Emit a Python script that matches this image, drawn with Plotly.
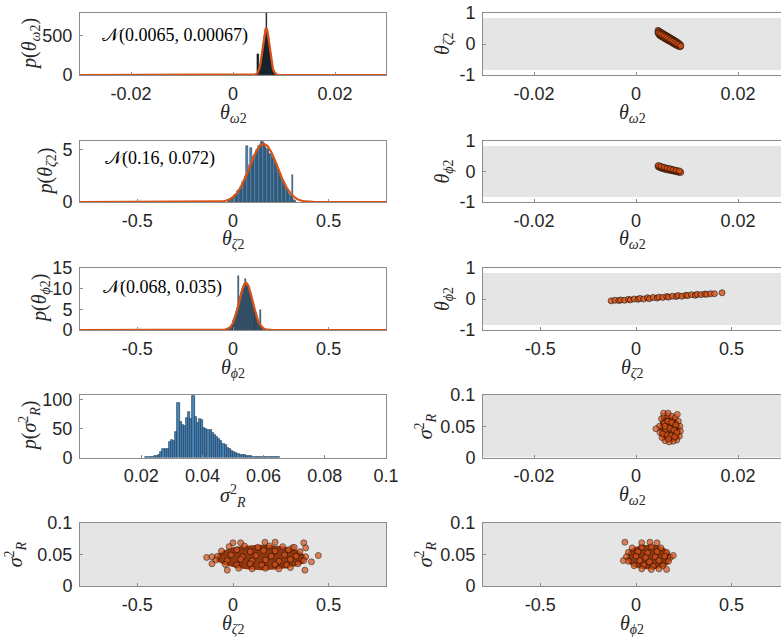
import plotly.graph_objects as go

# ---------------- data ----------------
# histogram of theta_omega2 (bin centres start / width, counts)
om_bin_start, om_bin_w = 0.0045, 0.0002
om_counts = [7, 16, 270, 67, 120, 195, 292, 400, 500, 570, 790, 575, 500, 400,
             290, 195, 120, 67, 34, 16, 7, 3]
om_fit_x = [-0.03, 0.0040, 0.0045, 0.0048, 0.0050, 0.0052, 0.0054, 0.0056, 0.0058, 0.0060,
            0.0062, 0.0064, 0.0065, 0.0066, 0.0068, 0.0070, 0.0072, 0.0074, 0.0076,
            0.0078, 0.0080, 0.0082, 0.0085, 0.0090, 0.03]
om_fit_y = [0, 0.6, 6.9, 23.8, 48.5, 90.6, 154.5, 241.5, 344.7, 450.5, 538.4, 588.4, 595,
            588.4, 538.4, 450.5, 344.7, 241.5, 154.5, 90.6, 48.5, 23.8, 6.9, 0.6, 0]

# histogram of theta_zeta2
ze_bin_start, ze_bin_w = -0.0245, 0.007
ze_counts = [0.1, 0.2, 0.3, 0.4, 0.5, 0.7, 0.8, 1.0, 1.1, 1.4, 1.5, 1.9, 2.0, 2.5, 5.3,
             3.0, 3.5, 5.1, 3.9, 4.4, 4.5, 4.9, 5.0, 5.3, 5.5, 5.8, 5.7, 5.5, 5.2, 5.0,
             5.0, 4.6, 4.6, 4.2, 4.1, 3.7, 3.4, 3.0, 2.8, 2.4, 2.1, 1.8, 1.6, 1.3, 1.1,
             0.9, 0.7, 0.6, 2.6, 0.2, 0.1]
ze_fit_x = [-0.8, -0.1, -0.06, -0.04, -0.02, 0.0, 0.02, 0.04, 0.06, 0.08, 0.10, 0.12, 0.14,
            0.16, 0.18, 0.20, 0.22, 0.24, 0.26, 0.28, 0.30, 0.32, 0.34, 0.36, 0.38, 0.42, 0.8]
ze_fit_y = [0, 0.01, 0.05, 0.12, 0.24, 0.47, 0.84, 1.38, 2.11, 2.99, 3.92, 4.75, 5.33,
            5.54, 5.33, 4.75, 3.92, 2.99, 2.11, 1.38, 0.84, 0.47, 0.24, 0.12, 0.05, 0.01, 0]

# histogram of theta_phi2
ph_bin_start, ph_bin_w = -0.04, 0.005
ph_counts = [0.1, 0.15, 0.2, 0.3, 0.5, 0.7, 0.9, 1.3, 1.7, 2.3, 2.9, 3.6, 4.5, 5.3, 13.1,
             7.3, 8.3, 9.2, 10.0, 10.6, 11.1, 12.3, 11.4, 11.2, 10.7, 10.1, 9.4, 8.5, 7.5,
             6.5, 5.5, 4.6, 3.8, 3.0, 2.4, 1.8, 1.4, 4.8, 0.7, 0.4, 0.2]
ph_fit_x = [-0.8, -0.06, -0.04, -0.02, -0.01, 0.0, 0.01, 0.02, 0.03, 0.04, 0.05, 0.06, 0.07,
            0.08, 0.09, 0.10, 0.11, 0.12, 0.13, 0.14, 0.15, 0.16, 0.18, 0.20, 0.8]
ph_fit_y = [0, 0.01, 0.10, 0.48, 0.95, 1.73, 2.89, 4.45, 6.32, 8.28, 9.99, 11.11, 11.38,
            10.75, 9.36, 7.51, 5.55, 3.78, 2.38, 1.37, 0.73, 0.36, 0.07, 0.01, 0]

# histogram of sigma_R^2
sg_bin_start, sg_bin_w = 0.0217, 0.0007
sg_counts = [0.3, 0.5, 0.7, 1, 2, 3, 5, 9, 14, 15, 15, 27, 30, 29, 44, 95, 62, 57, 55, 68,
             79, 66, 106, 70, 59, 66, 64, 51, 49, 48, 47, 43, 39, 36, 32, 28, 24, 21, 17,
             14, 11, 10, 8, 6, 5, 4, 3.5, 3, 2.5, 2, 1.6, 1.3, 1.1, 0.9, 0.8, 0.6, 0.5,
             0.4, 0.4, 0.3, 0.3, 0.2, 0.2]

# labels of the fitted normals
om_fit_label = "𝒩(0.0065, 0.00067)"
ze_fit_label = "𝒩(0.16, 0.072)"
ph_fit_label = "𝒩(0.068, 0.035)"

# prior ranges (grey background samples)
prior_omega = [-0.03, 0.03]
prior_zeta = [-0.84, 0.84]
prior_phi = [-0.84, 0.84]
prior_sigma = [0.0, 0.1]

# posterior samples: omega vs zeta (dense core outline + samples)
cA_core_x = [0.0043, 0.0065, 0.0087, 0.0087, 0.0065, 0.0043]
cA_core_y = [0.42, 0.19, -0.04, -0.08, 0.13, 0.35]
cA_x = [0.0043, 0.0043, 0.0045, 0.0045, 0.0047, 0.0047, 0.0049, 0.0049, 0.0051, 0.0051,
        0.0053, 0.0053, 0.0055, 0.0055, 0.0057, 0.0057, 0.0059, 0.0059, 0.0061, 0.0061,
        0.0063, 0.0063, 0.0065, 0.0065, 0.0067, 0.0067, 0.0069, 0.0069, 0.0071, 0.0071,
        0.0073, 0.0073, 0.0075, 0.0075, 0.0077, 0.0077, 0.0079, 0.0079, 0.0081, 0.0081,
        0.0083, 0.0083, 0.0085, 0.0085, 0.0087, 0.0087,
        0.0044, 0.0048, 0.0052, 0.0056, 0.0060, 0.0064, 0.0068, 0.0072, 0.0076, 0.0080,
        0.0084, 0.0088]
cA_y = [0.44, 0.36, 0.42, 0.30, 0.39, 0.27, 0.37, 0.25, 0.36, 0.23,
        0.33, 0.21, 0.32, 0.19, 0.29, 0.17, 0.28, 0.15, 0.26, 0.13,
        0.24, 0.11, 0.22, 0.10, 0.20, 0.08, 0.18, 0.06, 0.16, 0.04,
        0.14, 0.02, 0.12, 0.00, 0.10, -0.02, 0.08, -0.04, 0.06, -0.05,
        0.03, -0.07, 0.01, -0.08, -0.02, -0.09,
        0.36, 0.32, 0.29, 0.25, 0.21, 0.17, 0.13, 0.09, 0.05, 0.01, -0.02, -0.06]

# omega vs phi
cB_core_x = [0.0043, 0.0065, 0.0088, 0.0088, 0.0065, 0.0043]
cB_core_y = [0.19, 0.10, 0.00, -0.04, 0.05, 0.14]
cB_x = [0.0043, 0.0045, 0.0047, 0.0048, 0.0050, 0.0051, 0.0053, 0.0054, 0.0056, 0.0057,
        0.0059, 0.0060, 0.0062, 0.0063, 0.0065, 0.0066, 0.0068, 0.0069, 0.0071, 0.0072,
        0.0074, 0.0075, 0.0077, 0.0078, 0.0080, 0.0081, 0.0083, 0.0084, 0.0086, 0.0088,
        0.0044, 0.0049, 0.0055, 0.0061, 0.0067, 0.0073, 0.0079, 0.0085]
cB_y = [0.17, 0.14, 0.16, 0.12, 0.14, 0.10, 0.13, 0.09, 0.11, 0.07, 0.10, 0.06, 0.09, 0.05,
        0.08, 0.04, 0.07, 0.03, 0.06, 0.02, 0.05, 0.01, 0.03, 0.00, 0.02, -0.01, 0.00,
        -0.03, -0.01, -0.03,
        0.20, 0.17, 0.14, 0.11, 0.09, 0.06, 0.04, 0.02]

# zeta vs phi
cC_x = [-0.13, -0.11, -0.09, -0.08, -0.06, -0.04, -0.03, -0.01, 0.01, 0.02, 0.04, 0.06,
        0.07, 0.09, 0.11, 0.12, 0.14, 0.16, 0.17, 0.19, 0.21, 0.22, 0.24, 0.26, 0.27, 0.29,
        0.31, 0.32, 0.34, 0.36, 0.37, 0.39, 0.41, 0.45]
cC_y = [-0.06, -0.04, -0.05, -0.03, -0.04, -0.01, -0.03, 0.00, -0.01, 0.02, 0.00, 0.04,
        0.01, 0.05, 0.03, 0.06, 0.05, 0.08, 0.06, 0.09, 0.08, 0.11, 0.09, 0.12, 0.11, 0.14,
        0.12, 0.15, 0.14, 0.16, 0.15, 0.17, 0.17, 0.20]

# omega vs sigma: dense core outline + individual samples
cD_core_x = [0.0048, 0.0052, 0.0060, 0.0068, 0.0076, 0.0083, 0.0087, 0.0088, 0.0085, 0.0078,
             0.0068, 0.0058, 0.0051, 0.0046, 0.0045]
cD_core_y = [0.060, 0.065, 0.066, 0.066, 0.064, 0.059, 0.050, 0.040, 0.031, 0.026, 0.025,
             0.026, 0.030, 0.037, 0.048]
cD_x = [0.0050, 0.0055, 0.0062, 0.0070, 0.0077, 0.0083, 0.0086, 0.0087, 0.0085, 0.0080,
        0.0073, 0.0065, 0.0057, 0.0051, 0.0047, 0.0046, 0.0055, 0.0062, 0.0070, 0.0078,
        0.0058, 0.0066, 0.0074, 0.0080, 0.0053, 0.0061, 0.0069, 0.0076, 0.0064, 0.0057,
        0.0039, 0.0054, 0.0063, 0.0081]
cD_y = [0.062, 0.066, 0.067, 0.066, 0.064, 0.058, 0.050, 0.042, 0.034, 0.028, 0.026, 0.025,
        0.027, 0.032, 0.040, 0.050, 0.055, 0.058, 0.056, 0.052, 0.045, 0.047, 0.044, 0.040,
        0.038, 0.036, 0.035, 0.033, 0.030, 0.050, 0.046, 0.071, 0.071, 0.069]

# zeta vs sigma
cE_core_x = [-0.09, -0.08, -0.05, 0.0, 0.05, 0.10, 0.15, 0.20, 0.25, 0.30, 0.34, 0.37, 0.385,
             0.37, 0.33, 0.28, 0.22, 0.15, 0.08, 0.03, -0.02, -0.06]
cE_core_y = [0.040, 0.050, 0.056, 0.061, 0.063, 0.064, 0.065, 0.064, 0.063, 0.060, 0.056,
             0.050, 0.043, 0.036, 0.031, 0.028, 0.026, 0.025, 0.026, 0.028, 0.031, 0.035]
cE_x = [-0.02, 0.06, 0.13, 0.19, 0.26, 0.31,
        -0.06, 0.02, 0.09, 0.16, 0.22, 0.29, 0.35,
        -0.08, -0.01, 0.05, 0.12, 0.20, 0.27, 0.33, 0.38,
        -0.09, -0.03, 0.04, 0.10, 0.17, 0.24, 0.30, 0.37,
        -0.04, 0.02, 0.09, 0.15, 0.22, 0.28, 0.34,
        0.03, 0.10, 0.17, 0.24, 0.30,
        -0.138, -0.11, 0.446, 0.0, 0.04, 0.167, 0.22, 0.37, 0.38, 0.32, 0.376, -0.03,
        -0.11, 0.41]
cE_y = [0.062, 0.063, 0.061, 0.063, 0.062, 0.060,
        0.055, 0.057, 0.054, 0.056, 0.055, 0.057, 0.054,
        0.047, 0.049, 0.046, 0.048, 0.047, 0.049, 0.047, 0.046,
        0.041, 0.040, 0.042, 0.040, 0.041, 0.039, 0.042, 0.040,
        0.034, 0.033, 0.035, 0.033, 0.034, 0.033, 0.035,
        0.028, 0.027, 0.028, 0.027, 0.029,
        0.045, 0.046, 0.048, 0.068, 0.068, 0.069, 0.069, 0.068, 0.060, 0.061, 0.025, 0.025,
        0.035, 0.038]

# phi vs sigma
cF_core_x = [-0.05, -0.04, -0.01, 0.03, 0.07, 0.11, 0.15, 0.175, 0.185, 0.175, 0.15, 0.11,
             0.07, 0.03, -0.01, -0.04]
cF_core_y = [0.045, 0.055, 0.061, 0.064, 0.065, 0.064, 0.060, 0.053, 0.045, 0.036, 0.030,
             0.027, 0.026, 0.027, 0.030, 0.036]
cF_x = [-0.02, 0.03, 0.08, 0.13,
        -0.04, 0.01, 0.06, 0.11, 0.16,
        -0.05, 0.00, 0.05, 0.10, 0.15, 0.18,
        -0.04, 0.02, 0.07, 0.12, 0.17,
        -0.01, 0.04, 0.09, 0.14,
        0.03, 0.08, 0.12,
        -0.058, 0.073, 0.11, 0.195, -0.066, 0.16, 0.03]
cF_y = [0.060, 0.061, 0.062, 0.060,
        0.053, 0.054, 0.052, 0.054, 0.053,
        0.046, 0.047, 0.045, 0.046, 0.047, 0.045,
        0.039, 0.040, 0.038, 0.040, 0.039,
        0.032, 0.033, 0.031, 0.032,
        0.027, 0.026, 0.027,
        0.069, 0.069, 0.068, 0.048, 0.040, 0.026, 0.068]

# ---------------- figure ----------------
W, H = 781, 643
ORANGE = "#d95319"
GREY = "#e5e5e5"
TICKFONT = dict(family="Liberation Sans, Arial, sans-serif", size=18, color="#262626")
SERIF = "Liberation Serif, DejaVu Serif, serif"

L_X = [80 / W, 386 / W]
R_X = [483 / W, 1.0]
ROWS = [(13, 75), (141, 202), (268, 330), (395, 457.5), (522.5, 586)]


def ydom(r):
    t, b = ROWS[r]
    return [1 - b / H, 1 - t / H]


def sfx(n):
    return "" if n == 1 else str(n)


fig = go.Figure()


def centers(start, w, n):
    return [start + i * w for i in range(n)]


def add_hist(n, start, w, counts, color, lcolor, lw):
    fig.add_trace(go.Bar(x=centers(start, w, len(counts)), y=counts, width=w,
                         marker=dict(color=color, line=dict(color=lcolor, width=lw)),
                         xaxis="x" + sfx(n), yaxis="y" + sfx(n), showlegend=False))


def add_fit(n, xs, ys):
    fig.add_trace(go.Scatter(x=xs, y=ys, mode="lines", line=dict(color=ORANGE, width=2.2),
                             xaxis="x" + sfx(n), yaxis="y" + sfx(n), showlegend=False))


def add_prior(n, px, py):
    fig.add_trace(go.Scatter(x=[px[0], px[1], px[1], px[0], px[0]],
                             y=[py[0], py[0], py[1], py[1], py[0]],
                             mode="lines", fill="toself", fillcolor=GREY,
                             line=dict(width=0, color=GREY),
                             xaxis="x" + sfx(n), yaxis="y" + sfx(n), showlegend=False))


def add_core(n, xs, ys, col="#8f3812"):
    fig.add_trace(go.Scatter(x=xs + xs[:1], y=ys + ys[:1], mode="lines", fill="toself",
                             fillcolor=col, line=dict(width=0, color=col),
                             xaxis="x" + sfx(n), yaxis="y" + sfx(n), showlegend=False))


def add_pts(n, xs, ys, op=0.7):
    fig.add_trace(go.Scatter(x=xs, y=ys, mode="markers",
                             marker=dict(size=6, color=ORANGE, opacity=op,
                                         line=dict(color="#1a0a00", width=0.8)),
                             xaxis="x" + sfx(n), yaxis="y" + sfx(n), showlegend=False))


# row 1
add_hist(1, om_bin_start, om_bin_w, om_counts, "#0d2230", "#000000", 0.3)
add_fit(1, om_fit_x, om_fit_y)
add_prior(2, prior_omega, prior_zeta)
add_core(2, cA_core_x, cA_core_y, "#5e240c")
add_pts(2, cA_x, cA_y, 0.75)
# row 2
add_hist(3, ze_bin_start, ze_bin_w, ze_counts, "#4a8cc0", "#1c2c38", 0.5)
add_fit(3, ze_fit_x, ze_fit_y)
add_prior(4, prior_omega, prior_phi)
add_core(4, cB_core_x, cB_core_y, "#5e240c")
add_pts(4, cB_x, cB_y, 0.75)
# row 3
add_hist(5, ph_bin_start, ph_bin_w, ph_counts, "#3a7099", "#1c2c38", 0.5)
add_fit(5, ph_fit_x, ph_fit_y)
add_prior(6, prior_zeta, prior_phi)
add_pts(6, cC_x, cC_y, 0.8)
# row 4
add_hist(7, sg_bin_start, sg_bin_w, sg_counts, "#4686b8", "#23405a", 0.7)
add_prior(8, prior_omega, prior_sigma)
add_core(8, cD_core_x, cD_core_y)
add_pts(8, cD_x, cD_y)
# row 5
add_prior(9, prior_zeta, prior_sigma)
add_core(9, cE_core_x, cE_core_y)
add_pts(9, cE_x, cE_y)
add_prior(10, prior_phi, prior_sigma)
add_core(10, cF_core_x, cF_core_y)
add_pts(10, cF_x, cF_y)

om_ticks = ([-0.02, 0, 0.02], ["-0.02", "0", "0.02"])
half_ticks = ([-0.5, 0, 0.5], ["-0.5", "0", "0.5"])
sg_xticks = ([0.02, 0.04, 0.06, 0.08, 0.1], ["0.02", "0.04", "0.06", "0.08", "0.1"])
sg_yticks = ([0, 0.05, 0.1], ["0", "0.05", "0.1"])
unit_ticks = ([-1, 0, 1], ["-1", "0", "1"])

axes = [
    # n, xdom, row, xrange, yrange, xticks, yticks, right column?
    (1, L_X, 0, [-0.03, 0.03], [0, 790], om_ticks, ([0, 500], ["0", "500"]), False),
    (2, R_X, 0, [-0.03, 0.02843], [-1, 1], om_ticks, unit_ticks, True),
    (3, L_X, 1, [-0.8, 0.8], [0, 5.8], half_ticks, ([0, 5], ["0", "5"]), False),
    (4, R_X, 1, [-0.03, 0.02843], [-1, 1], om_ticks, unit_ticks, True),
    (5, L_X, 2, [-0.8, 0.8], [0, 15], half_ticks, ([0, 5, 10, 15], ["0", "5", "10", "15"]), False),
    (6, R_X, 2, [-0.8, 0.7582], [-1, 1], half_ticks, unit_ticks, True),
    (7, L_X, 3, [0, 0.1], [0, 108], sg_xticks, ([0, 50, 100], ["0", "50", "100"]), False),
    (8, R_X, 3, [-0.03, 0.02843], [0, 0.1], om_ticks, sg_yticks, True),
    (9, L_X, 4, [-0.8, 0.8], [0, 0.1], half_ticks, sg_yticks, False),
    (10, R_X, 4, [-0.8, 0.7582], [0, 0.1], half_ticks, sg_yticks, True),
]

lay = {}
for n, xd, r, xr, yr, xt, yt, right in axes:
    common = dict(showline=True, linecolor="#8c8c8c", linewidth=1, ticks="inside",
                  ticklen=3, tickcolor="#8c8c8c", showgrid=False, zeroline=False,
                  tickfont=TICKFONT, fixedrange=True, automargin=False)
    lay["xaxis" + sfx(n)] = dict(domain=xd, anchor="y" + sfx(n), range=xr, tickvals=xt[0],
                                 ticktext=xt[1], mirror=True, ticklabelstandoff=2, **common)
    lay["yaxis" + sfx(n)] = dict(domain=ydom(r), anchor="x" + sfx(n), range=yr,
                                 tickvals=yt[0], ticktext=yt[1], mirror=(not right),
                                 ticklabelstandoff=3, **common)
fig.update_layout(**lay)

th = {
    "om": "<i>θ</i><sub><i>ω</i>2</sub>",
    "ze": "<i>θ</i><sub><i>ζ</i>2</sub>",
    "ph": "<i>θ</i><sub><i>ϕ</i>2</sub>",
    "sg": "<i>σ</i><sup>2</sup><sub><i>R</i></sub>",
}


def p(s):
    return "<i>p</i>(" + th[s] + ")"


titles = [
    # n, xtitle, ytitle, ylabel offset
    (1, th["om"], p("om"), 50),
    (2, th["om"], th["ze"], 40),
    (3, th["ze"], p("ze"), 34),
    (4, th["om"], th["ph"], 40),
    (5, th["ph"], p("ph"), 40),
    (6, th["ze"], th["ph"], 40),
    (7, th["sg"], p("sg"), 50),
    (8, th["om"], th["sg"], 57),
    (9, th["ze"], th["sg"], 64),
    (10, th["ph"], th["sg"], 57),
]
TF = dict(family=SERIF, size=20, color="#262626")
anns = []
for n, xt, yt, off in titles:
    anns.append(dict(text=xt, xref="x" + sfx(n) + " domain", yref="y" + sfx(n) + " domain",
                     x=0.5, y=0, yshift=-38, showarrow=False, font=TF, xanchor="center",
                     yanchor="middle"))
    anns.append(dict(text=yt, xref="x" + sfx(n) + " domain", yref="y" + sfx(n) + " domain",
                     x=0, y=0.5, xshift=-off, showarrow=False, font=TF, textangle=-90,
                     xanchor="center", yanchor="middle"))
NF = dict(family=SERIF, size=18, color="#000000")
for n, txt, xf, yf in [(1, om_fit_label, 0.065, 0.63), (3, ze_fit_label, 0.075, 0.72),
                       (5, ph_fit_label, 0.069, 0.69)]:
    anns.append(dict(text=txt, xref="x" + sfx(n) + " domain", yref="y" + sfx(n) + " domain",
                     x=xf, y=yf, showarrow=False, font=NF, xanchor="left", yanchor="middle"))

fig.update_layout(width=W, height=H, autosize=False, margin=dict(l=0, r=0, t=0, b=0, pad=0),
                  paper_bgcolor="white", plot_bgcolor="white", bargap=0,
                  annotations=anns, showlegend=False)
fig.write_html("out.html")
